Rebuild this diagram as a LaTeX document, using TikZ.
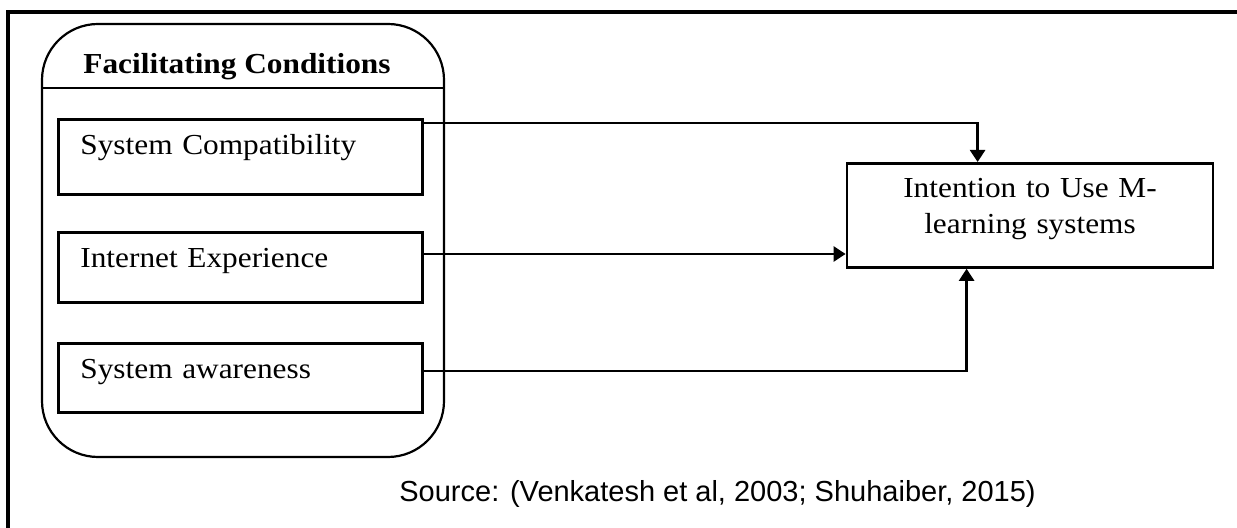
\documentclass[tikz,border=0pt]{standalone}
\usepackage{fontspec}
\setmainfont{Liberation Serif}[FakeStretch=1.08]
\newfontfamily\sourcefont{Liberation Sans}
\usetikzlibrary{arrows.meta,calc}

\begin{document}
\begin{tikzpicture}[x=0.5pt,y=0.5pt,yscale=-1,xscale=1,
  factor/.style={draw, line width=1.4pt, anchor=north west, inner xsep=11pt, inner ysep=0pt, text width=160pt, align=left, text height=17.5pt, font=\fontsize{14.5}{17}\selectfont},
  link/.style={line width=1.3pt, -{Triangle[width=7.5pt,length=6pt]}}]
\useasboundingbox (0,0) rectangle (1237,528);

%Shape: frame (top and left edge only)
\draw [line width=1.8pt] (1237,12) -- (8,12) -- (8,528) ;
%Shape: Rounded Rect [id:facilitating]
\draw [line width=1.1pt, rounded corners=28pt] (42,24) rectangle (444,457) ;
%Straight Lines [id:header]
\draw [line width=1.1pt] (42,88) -- (444,88) ;

% Text Node
\node (fchead) [anchor=base, inner sep=0pt, font=\bfseries\fontsize{14.5}{17}\selectfont] at (237,74) {Facilitating Conditions};

%Shape: Rectangle [id:factors]
\node (sc) [factor, text depth=20pt] at (57,118) {System Compatibility};
\node (ie) [factor, text depth=17.5pt] at (57,231) {Internet Experience};
\node (sa) [factor, text depth=17pt] at (57,342) {System awareness};

%Shape: Rectangle [id:intention]
\node (intent) [draw, line width=1.4pt, anchor=north, inner xsep=11.5pt, inner ysep=0pt, text width=160pt, align=center, text height=17pt, text depth=35pt, font=\fontsize{14.5}{18}\selectfont] at (1030,162) {Intention to Use M-\\learning systems};

%Straight Lines [id:links]
\draw [link] ($(sc.north east)+(0,5)$) -| ($(intent.north west)+(132,0)$) ;
\draw [link] ($(ie.north east)+(0,23)$) coordinate (iex) -- (intent.west |- iex) ;
\draw [link] ($(sa.north east)+(0,29)$) -| ($(intent.south west)+(121,0)$) ;

% Text Node
\node (src) [anchor=base west, inner sep=0pt, font=\sourcefont\fontsize{14.5}{17}\selectfont] at (399,502) {Source: (Venkatesh et al, 2003; Shuhaiber, 2015)};

\end{tikzpicture}
\end{document}
